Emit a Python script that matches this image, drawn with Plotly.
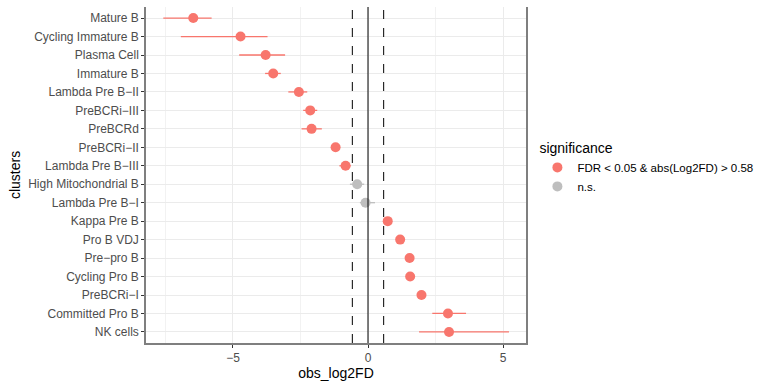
import plotly.graph_objects as go

clusters = ["Mature B", "Cycling Immature B", "Plasma Cell", "Immature B",
            "Lambda Pre B\u2212II", "PreBCRi\u2212III", "PreBCRd", "PreBCRi\u2212II",
            "Lambda Pre B\u2212III", "High Mitochondrial B", "Lambda Pre B\u2212I",
            "Kappa Pre B", "Pro B VDJ", "Pre\u2212pro B", "Cycling Pro B",
            "PreBCRi\u2212I", "Committed Pro B", "NK cells"]
obs_log2FD = [-6.47, -4.72, -3.79, -3.51, -2.56, -2.14, -2.09, -1.20, -0.83,
              -0.40, -0.09, 0.73, 1.19, 1.54, 1.56, 1.98, 2.96, 3.00]
ci_low = [-7.58, -6.93, -4.77, -3.81, -2.95, -2.40, -2.46, -1.30, -1.06,
          -0.67, -0.30, 0.63, 1.09, 1.44, 1.46, 1.88, 2.38, 1.89]
ci_high = [-5.79, -3.72, -3.07, -3.23, -2.25, -1.88, -1.71, -1.10, -0.64,
           -0.14, 0.26, 0.83, 1.29, 1.64, 1.66, 2.08, 3.63, 5.22]
significance = ["sig"] * 9 + ["ns"] * 2 + ["sig"] * 7

groups = {
    "sig": ("FDR < 0.05 & abs(Log2FD) > 0.58", "#F8766D"),
    "ns": ("n.s.", "#BEBEBE"),
}
threshold = 0.58

fig = go.Figure()
for key, (label, color) in groups.items():
    idx = [i for i, s in enumerate(significance) if s == key]
    fig.add_trace(go.Scatter(
        x=[obs_log2FD[i] for i in idx],
        y=[clusters[i] for i in idx],
        mode="markers",
        name=label,
        marker=dict(color=color, size=10, line=dict(width=0)),
        error_x=dict(type="data", symmetric=False,
                     array=[ci_high[i] - obs_log2FD[i] for i in idx],
                     arrayminus=[obs_log2FD[i] - ci_low[i] for i in idx],
                     color=color, thickness=1.3, width=0),
    ))

for xv, dash in [(-threshold, "dash"), (threshold, "dash"), (0, "solid")]:
    fig.add_shape(type="line", xref="x", yref="paper", x0=xv, x1=xv, y0=0, y1=1,
                  line=dict(color="black", width=1, dash=dash), layer="above")

fig.update_layout(
    width=762, height=381, autosize=False,
    margin=dict(l=146, r=236, t=7, b=38, autoexpand=False),
    paper_bgcolor="white", plot_bgcolor="white",
    font=dict(family="Liberation Sans, Arial, sans-serif", size=12, color="#4D4D4D"),
    legend=dict(title=dict(text="significance", font=dict(size=14, color="black")),
                x=1.03, y=0.62, xanchor="left", yanchor="top", itemwidth=30,
                font=dict(size=11.5, color="black"), bgcolor="rgba(0,0,0,0)"),
    xaxis=dict(range=[-8.22, 5.85], tickvals=[-5, 0, 5], ticktext=["\u22125", "0", "5"],
               automargin=False,
               showgrid=True, gridcolor="#EBEBEB", gridwidth=1, zeroline=False,
               minor=dict(tickvals=[-7.5, -2.5, 2.5], showgrid=True, gridcolor="#F2F2F2", gridwidth=1),
               showline=True, linecolor="#7F7F7F", linewidth=1.5, mirror=False,
               ticks="outside", ticklen=3, tickcolor="#333333",
               tickfont=dict(size=12, color="#4D4D4D"),
               title=dict(text="obs_log2FD", font=dict(size=14, color="black"), standoff=2)),
    yaxis=dict(categoryorder="array", categoryarray=clusters, range=[17.6, -0.6],
               automargin=False,
               showgrid=True, gridcolor="#EBEBEB", gridwidth=1.3, zeroline=False,
               showline=True, linecolor="#7F7F7F", linewidth=1.5, mirror=True,
               ticks="outside", ticklen=3, tickcolor="#333333",
               tickfont=dict(size=12, color="#4D4D4D"),
               title=dict(text="clusters", font=dict(size=14, color="black"), standoff=4)),
)

fig.write_html(
    "out.html",
    config={"displayModeBar": False, "responsive": False},
    post_script="document.body.style.margin='0px';document.body.style.overflow='hidden';",
)
